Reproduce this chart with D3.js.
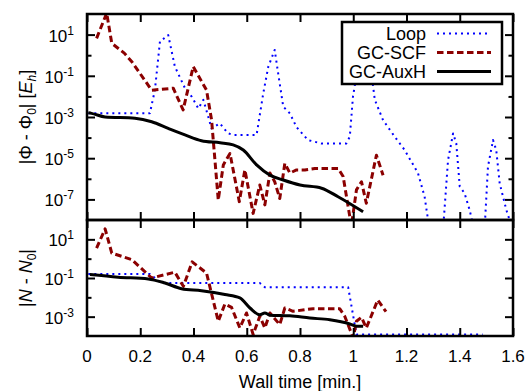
<!DOCTYPE html>
<html>
<head>
<meta charset="utf-8">
<script src="https://cdn.jsdelivr.net/npm/d3@7"></script>
<style>
  body { margin: 0; background: #fff; }
  svg { font-family: "Liberation Sans", Arial, sans-serif; }
</style>
</head>
<body>
<div id="container"></div>
<script>
// wall time [min.] and errors
const loopPhiT = [0.005, 0.236, 0.255, 0.274, 0.305, 0.33, 0.368, 0.393, 0.418, 0.437, 0.468, 0.499, 0.53, 0.549, 0.637, 0.662, 0.681, 0.705, 0.718, 0.737, 0.762, 0.787, 0.83, 0.88, 0.974, 0.987, 0.999, 1.006, 1.04, 1.074, 1.081, 1.112, 1.156, 1.193, 1.243, 1.268, 1.287, 1.337, 1.356, 1.375, 1.387, 1.4, 1.418, 1.437, 1.455, 1.493, 1.506, 1.525, 1.537, 1.55, 1.575, 1.6];
const loopPhiV = [1.5e-3, 1.5e-3, 2e-2, 4.6, 9.5, 0.28, 2.5e-2, 9.8e-3, 2.6e-3, 6.8e-3, 2.8e-4, 4.9e-4, 1.6e-4, 1.35e-4, 1.35e-4, 1.4e-2, 0.28, 1.8, 0.13, 3.2e-3, 1.5e-3, 3.2e-4, 7.6e-5, 5.2e-5, 5.2e-5, 1.1e-4, 9.8e-3, 3.5e-2, 5, 3.5e-2, 6.8e-3, 7e-4, 1.1e-4, 2.5e-5, 1.9e-6, 1.35e-7, 3e-9, 3e-9, 8e-6, 1.6e-4, 5.2e-5, 4.2e-7, 2e-7, 3.1e-8, 3e-9, 3e-9, 3.9e-6, 7.6e-5, 2.5e-5, 6e-7, 3.1e-8, 3e-9];

const scfPhiT = [0.036, 0.074, 0.093, 0.14, 0.17, 0.243, 0.324, 0.361, 0.399, 0.449, 0.468, 0.493, 0.512, 0.537, 0.572, 0.593, 0.624, 0.649, 0.668, 0.687, 0.705, 0.724, 0.743, 0.762, 0.787, 0.818, 0.856, 0.943, 0.962, 0.993, 1.012, 1.031, 1.049, 1.087, 1.112];
const scfPhiV = [6.6, 110, 3.8, 1.26, 0.45, 2e-2, 2.5e-2, 2.2e-3, 0.28, 2e-2, 7e-4, 9.3e-8, 4.7e-6, 1.7e-5, 7.8e-8, 2.7e-6, 2.1e-8, 5e-7, 5.4e-8, 1.9e-6, 7.2e-7, 1.1e-7, 5.6e-6, 1.9e-6, 2.7e-6, 2.7e-6, 3.2e-6, 3.2e-6, 1.3e-6, 5e-9, 2.9e-7, 7.2e-7, 6.5e-8, 1.4e-5, 1.5e-6];

const auxPhiT = [0.005, 0.017, 0.068, 0.18, 0.243, 0.305, 0.368, 0.43, 0.5, 0.549, 0.587, 0.637, 0.687, 0.737, 0.8, 0.881, 0.943, 1.037];
const auxPhiV = [1.6e-3, 1.5e-3, 1.0e-3, 8.7e-4, 5.9e-4, 2.8e-4, 1.35e-4, 7.1e-5, 5.6e-5, 4.4e-5, 2.5e-5, 4.7e-6, 1.5e-6, 8.7e-7, 5e-7, 3.5e-7, 1.35e-7, 2.5e-8];

const loopNT = [0.005, 0.236, 0.28, 0.649, 0.668, 0.981, 1.012, 1.486];
const loopNV = [0.16, 0.16, 5.5e-2, 5.5e-2, 3.3e-2, 3.3e-2, 1.2e-4, 1.2e-4];

const scfNT = [0.036, 0.068, 0.093, 0.168, 0.243, 0.33, 0.362, 0.395, 0.449, 0.493, 0.518, 0.543, 0.574, 0.599, 0.624, 0.649, 0.668, 0.687, 0.724, 0.743, 0.774, 0.849, 0.949, 0.968, 1.0, 1.012, 1.031, 1.049, 1.092, 1.123];
const scfNV = [3.5, 35, 1.95, 0.9, 0.1, 0.2, 3.7e-2, 0.68, 0.18, 5.8e-4, 4.5e-3, 3e-3, 2.6e-4, 1.55e-3, 1.2e-4, 1.05e-3, 2.6e-4, 1.55e-3, 3.9e-4, 2.8e-3, 1.9e-3, 2.6e-3, 2.6e-3, 1.05e-3, 8e-5, 5.8e-4, 9.3e-4, 2.6e-4, 7.2e-3, 1.8e-3];

const auxNT = [0.011, 0.117, 0.23, 0.293, 0.355, 0.43, 0.518, 0.574, 0.612, 0.649, 0.668, 0.687, 0.762, 0.837, 0.912, 0.987, 1.012, 1.037];
const auxNV = [0.15, 0.11, 0.09, 5.5e-2, 2.8e-2, 2.2e-2, 1.4e-2, 9.3e-3, 2.8e-3, 1.26e-3, 1.55e-3, 1.2e-3, 1.1e-3, 8.5e-4, 6.9e-4, 4.2e-4, 3.2e-4, 3.2e-4];

const xTicks = [0, 0.2, 0.4, 0.6, 0.8, 1, 1.2, 1.4, 1.6];
const phiExps = [1, 0, -1, -2, -3, -4, -5, -6, -7];
const nExps = [1, 0, -1, -2, -3];
const legendNames = ["Loop", "GC-SCF", "GC-AuxH"];

const width = 526, height = 391;
const left = 87, right = 513;
const styles = [
  { color: "#0000ff", dash: "2,4", w: 2, curve: d3.curveLinear },
  { color: "#8b0000", dash: "6.5,3.5", w: 3, curve: d3.curveLinear },
  { color: "#000000", dash: null, w: 3, curve: d3.curveMonotoneX }
];

const svg = d3.select("#container").append("svg")
  .attr("width", width)
  .attr("height", height);

const x = d3.scaleLinear().domain([0, 1.6]).range([left, right]);

const pack = (ts, vs) => ts.map((t, i) => ({ t, v: vs[i] }));

function panel(id, top, bottom, domain, exps, series) {
  const y = d3.scaleLog().domain(domain).range([bottom, top]);
  const g = svg.append("g");

  g.append("clipPath").attr("id", id)
    .append("rect")
    .attr("x", left).attr("y", top)
    .attr("width", right - left).attr("height", bottom - top);

  series.forEach((s, i) => {
    const line = d3.line().x(d => x(d.t)).y(d => y(d.v)).curve(styles[i].curve);
    g.append("path")
      .datum(s)
      .attr("clip-path", `url(#${id})`)
      .attr("fill", "none")
      .attr("stroke", styles[i].color)
      .attr("stroke-width", styles[i].w)
      .attr("stroke-dasharray", styles[i].dash)
      .attr("stroke-linejoin", "round")
      .attr("d", line);
  });

  // inward ticks on all four sides
  const majors = exps.filter(e => Math.abs(e) % 2 === 1).map(e => Math.pow(10, e));
  const minors = exps.filter(e => Math.abs(e) % 2 === 0).map(e => Math.pow(10, e));
  const tickStyle = sel => sel.call(s => s.select(".domain").remove())
    .selectAll("line").attr("stroke", "#000").attr("stroke-width", 2);

  g.append("g").attr("transform", `translate(${left},0)`)
    .call(d3.axisLeft(y).tickValues(majors).tickSize(-8).tickFormat("")).call(tickStyle);
  g.append("g").attr("transform", `translate(${left},0)`)
    .call(d3.axisLeft(y).tickValues(minors).tickSize(-4.5).tickFormat("")).call(tickStyle);
  g.append("g").attr("transform", `translate(${right},0)`)
    .call(d3.axisRight(y).tickValues(majors).tickSize(-8).tickFormat("")).call(tickStyle);
  g.append("g").attr("transform", `translate(${right},0)`)
    .call(d3.axisRight(y).tickValues(minors).tickSize(-4.5).tickFormat("")).call(tickStyle);
  g.append("g").attr("transform", `translate(0,${bottom})`)
    .call(d3.axisBottom(x).tickValues(xTicks).tickSize(-8).tickFormat("")).call(tickStyle);
  g.append("g").attr("transform", `translate(0,${top})`)
    .call(d3.axisTop(x).tickValues(xTicks).tickSize(-8).tickFormat("")).call(tickStyle);

  // 10^n labels
  const lab = g.append("g").attr("font-size", 17).attr("text-anchor", "end");
  exps.filter(e => Math.abs(e) % 2 === 1).forEach(e => {
    const t = lab.append("text")
      .attr("x", 74)
      .attr("y", y(Math.pow(10, e)) + 7);
    t.append("tspan").text("10");
    t.append("tspan").attr("font-size", 12).attr("dy", -7).text(e < 0 ? "-" + (-e) : e);
  });

  g.append("rect")
    .attr("x", left).attr("y", top)
    .attr("width", right - left).attr("height", bottom - top)
    .attr("fill", "none").attr("stroke", "#000").attr("stroke-width", 2.5);

  return y;
}

panel("clipPhi", 14, 220, [1e-8, 1e2], phiExps,
  [pack(loopPhiT, loopPhiV), pack(scfPhiT, scfPhiV), pack(auxPhiT, auxPhiV)]);
panel("clipN", 220, 336, [1e-4, 1e2], nExps,
  [pack(loopNT, loopNV), pack(scfNT, scfNV), pack(auxNT, auxNV)]);

// x tick labels
svg.append("g").attr("font-size", 17).attr("text-anchor", "middle")
  .selectAll("text").data(xTicks).join("text")
  .attr("x", d => x(d)).attr("y", 362)
  .text(d3.format("~g"));

svg.append("text")
  .attr("x", (left + right) / 2).attr("y", 388)
  .attr("text-anchor", "middle").attr("font-size", 18)
  .text("Wall time [min.]");

// y-axis titles
const phiTitle = svg.append("text")
  .attr("transform", "translate(32,117) rotate(-90)")
  .attr("text-anchor", "middle").attr("font-size", 18);
phiTitle.append("tspan").text("|Φ - Φ");
phiTitle.append("tspan").attr("font-size", 12).attr("dy", 4).text("0");
phiTitle.append("tspan").attr("dy", -4).text("| [");
phiTitle.append("tspan").attr("font-style", "italic").text("E");
phiTitle.append("tspan").attr("font-size", 12).attr("font-style", "italic").attr("dy", 4).text("h");
phiTitle.append("tspan").attr("dy", -4).text("]");

const nTitle = svg.append("text")
  .attr("transform", "translate(32,278) rotate(-90)")
  .attr("text-anchor", "middle").attr("font-size", 18);
nTitle.append("tspan").text("|");
nTitle.append("tspan").attr("font-style", "italic").text("N");
nTitle.append("tspan").text(" - ");
nTitle.append("tspan").attr("font-style", "italic").text("N");
nTitle.append("tspan").attr("font-size", 12).attr("dy", 4).text("0");
nTitle.append("tspan").attr("dy", -4).text("|");

// legend
const legend = svg.append("g");
legend.append("rect")
  .attr("x", 342).attr("y", 22).attr("width", 160).attr("height", 62)
  .attr("fill", "#fff").attr("stroke", "#000").attr("stroke-width", 2.5);
legendNames.forEach((name, i) => {
  const cy = 33.5 + i * 19;
  legend.append("text")
    .attr("x", 426).attr("y", cy + 6.5)
    .attr("text-anchor", "end").attr("font-size", 18)
    .text(name);
  legend.append("line")
    .attr("x1", 437).attr("x2", 491).attr("y1", cy).attr("y2", cy)
    .attr("stroke", styles[i].color)
    .attr("stroke-width", styles[i].w)
    .attr("stroke-dasharray", styles[i].dash);
});
</script>
</body>
</html>
